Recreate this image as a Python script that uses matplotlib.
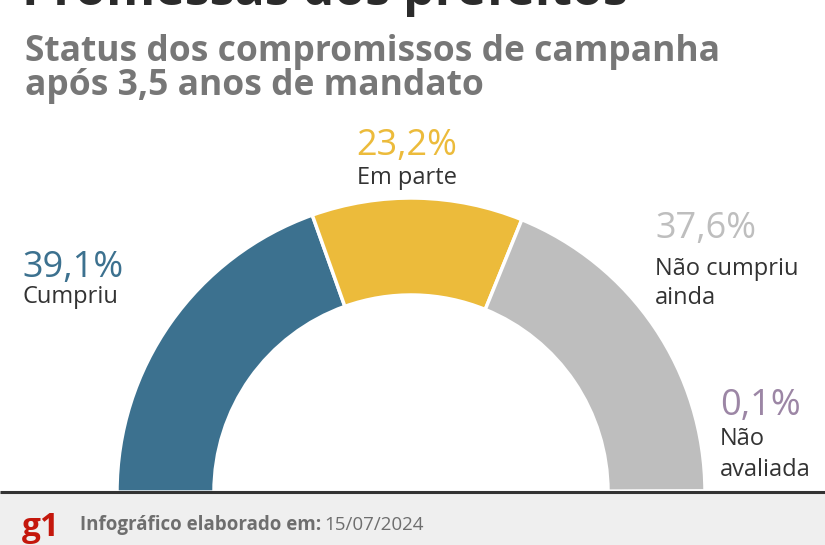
import matplotlib
matplotlib.use("Agg")
import matplotlib.pyplot as plt
from matplotlib.patches import Rectangle

# dados do grafico
rotulos = [["Cumpriu"], ["Em parte"], ["Não cumpriu", "ainda"], ["Não", "avaliada"]]
valores = [39.1, 23.2, 37.6, 0.1]
cores = ["#3c718f", "#ecbb3b", "#bebebe", "#9c86a5"]
textos_pct = ["39,1%", "23,2%", "37,6%", "0,1%"]

plt.rcParams["font.family"] = ["Open Sans", "DejaVu Sans"]

fig = plt.figure(figsize=(8.25, 5.45), dpi=100)
ax = fig.add_axes([0, 0, 1, 1])

# meia rosca: valores/200 -> soma 0.5 = meio circulo
# eixo y invertido (pixels), por isso counterclock=True desenha esquerda -> topo -> direita
fracoes = [v / 200 for v in valores]
ax.pie(fracoes, colors=cores, normalize=False, startangle=180, counterclock=True,
       center=(411, 492), radius=294,
       wedgeprops=dict(width=97, edgecolor="white", linewidth=2.5))

ax.set_xlim(0, 825)
ax.set_ylim(545, 0)
ax.set_aspect("equal")
ax.axis("off")

# rodape
ax.add_patch(Rectangle((0, 492), 825, 60, facecolor="#efefef", edgecolor="none", zorder=5))
ax.plot([0, 825], [492, 492], color="#333333", lw=2.2, zorder=6, solid_capstyle="butt")

# titulos
ax.text(22, 5, "Promessas dos prefeitos", fontsize=36, fontweight="bold",
        color="#2b2b2b", va="baseline", ha="left")
ax.text(25, 61, "Status dos compromissos de campanha", fontsize=25.5, fontweight="bold",
        color="#777777", va="baseline", ha="left")
ax.text(25, 95, "após 3,5 anos de mandato", fontsize=25.5, fontweight="bold",
        color="#777777", va="baseline", ha="left")

# rotulos das fatias: (x, baseline do %, alinhamento) e baselines das linhas do nome
pos_pct = [(22, 277, "left"), (407, 155, "center"), (655, 238, "left"), (720, 415, "left")]
pos_lbl = [[303], [184], [275, 304], [445, 476]]
for i in range(len(valores)):
    x, y, ha = pos_pct[i]
    ax.text(x, y, textos_pct[i], fontsize=26, color=cores[i],
            va="baseline", ha=ha)
    for linha, ly in zip(rotulos[i], pos_lbl[i]):
        ax.text(x, ly, linha, fontsize=17, color="#333333",
                va="baseline", ha=ha)

# logo e data
ax.text(22, 536, "g1", fontsize=24, fontweight="bold", color="#c4170c",
        va="baseline", ha="left", zorder=7)
t = ax.text(80, 530, "Infográfico elaborado em:", fontsize=13.5, fontweight="bold",
            color="#6e6e6e", va="baseline", ha="left", zorder=7)
fig.canvas.draw()
bb = t.get_window_extent().transformed(ax.transData.inverted())
ax.text(bb.x1 + 3, 530, "15/07/2024", fontsize=13.5, color="#6e6e6e",
        va="baseline", ha="left", zorder=7)

fig.savefig("out.png", dpi=100)
